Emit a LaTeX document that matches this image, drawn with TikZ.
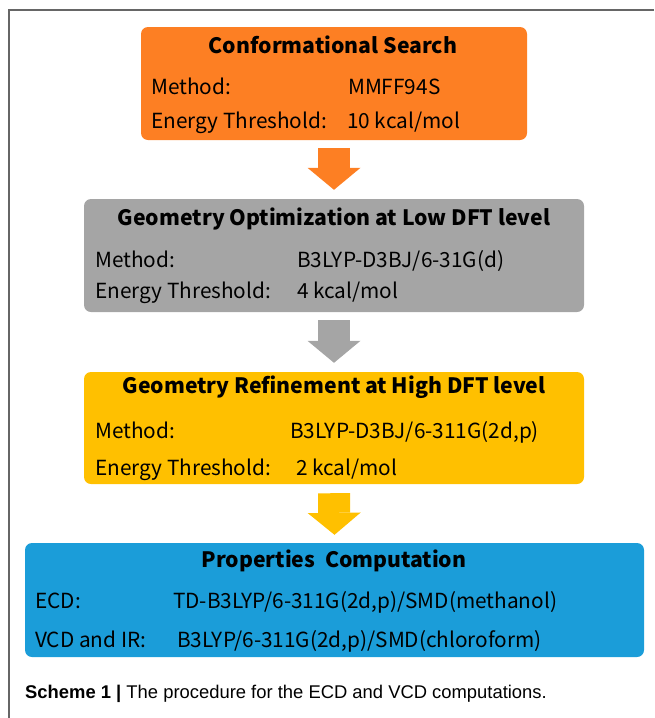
\documentclass[tikz,border=0pt]{standalone}
\usepackage{fontspec}
\setmainfont{Liberation Sans}
\newfontfamily\boxfont{Noto Sans CJK SC}
\usetikzlibrary{arrows.meta}
\usetikzlibrary{positioning}

\definecolor{csorange}{HTML}{FD7F23}
\definecolor{gogrey}{HTML}{A5A5A5}
\definecolor{gryellow}{HTML}{FFC000}
\definecolor{pcblue}{HTML}{1B9DD9}

\tikzset{
  stage/.style={rounded corners=7pt, inner sep=0pt},
  txt/.style={anchor=base west, inner sep=0pt, font=\boxfont\fontsize{20.8}{24}\selectfont},
  ttl/.style={anchor=base, inner sep=0pt, font=\boxfont\bfseries\fontsize{21.2}{24}\selectfont},
  flow/.style={line width=32pt, draw=#1, -{Triangle[length=22pt, width=53pt, line width=0pt, fill=#1]}}
}

\begin{document}
\begin{tikzpicture}[x=1pt, y=-1pt]
      \useasboundingbox (0,0) rectangle (654,718);
      \draw[line width=1.5pt, black!60] (9,718) -- (9,10) -- (654,10);

      \node[stage, fill=csorange, minimum width=386pt, minimum height=113pt] (cs) at (334,83.5) {};
      \node[stage, fill=gogrey, minimum width=500pt, minimum height=113pt] (go) at (334,255.5) {};
      \node[stage, fill=gryellow, minimum width=500pt, minimum height=112pt] (gr) at (334,428) {};
      \node[stage, fill=pcblue, minimum width=619pt, minimum height=114pt] (pc) at (334.5,600) {};

      \node[ttl] (cs-t) at (333,53) {Conformational Search};
      \node[txt] (cs-m) at (151,94) {Method:};
      \node[txt] (cs-mv) at (348,94) {MMFF94S};
      \node[txt] (cs-e) at (151,128) {Energy Threshold:};
      \node[txt] (cs-ev) at (347,128) {10 kcal/mol};

      \node[ttl] (go-t) at (334,225) {Geometry Optimization at Low DFT level};
      \node[txt] (go-m) at (95,267) {Method:};
      \node[txt] (go-mv) at (297,267) {B3LYP-D3BJ/6-31G(d)};
      \node[txt] (go-e) at (95,298) {Energy Threshold:};
      \node[txt] (go-ev) at (297,298) {4 kcal/mol};

      \node[ttl] (gr-t) at (334,393) {Geometry Refinement at High DFT level};
      \node[txt] (gr-m) at (95,438) {Method:};
      \node[txt] (gr-mv) at (290,438) {B3LYP-D3BJ/6-311G(2d,p)};
      \node[txt] (gr-e) at (95,475) {Energy Threshold:};
      \node[txt] (gr-ev) at (296,475) {2 kcal/mol};

      \node[ttl] (pc-t) at (334,567) {Properties\ \ Computation};
      \node[txt] (pc-m) at (35,608) {ECD:};
      \node[txt] (pc-mv) at (173,608) {TD-B3LYP/6-311G(2d,p)/SMD(methanol)};
      \node[txt] (pc-e) at (35,647) {VCD and IR:};
      \node[txt] (pc-ev) at (177,647) {B3LYP/6-311G(2d,p)/SMD(chloroform)};

      \node[anchor=base west, inner sep=0pt, font=\fontsize{18.4}{21}\selectfont] (cap) at (25,698) {\textbf{Scheme 1 |} The procedure for the ECD and VCD computations.};

      \draw[flow=csorange] ([yshift=-8pt]cs.south) -- ([yshift=9pt]go.north);
      \draw[flow=gogrey] ([yshift=-8pt]go.south) -- ([yshift=9pt]gr.north);
      \draw[flow=gryellow] ([yshift=-9pt]gr.south) -- ([yshift=8pt]pc.north);
    \end{tikzpicture}
\end{document}
